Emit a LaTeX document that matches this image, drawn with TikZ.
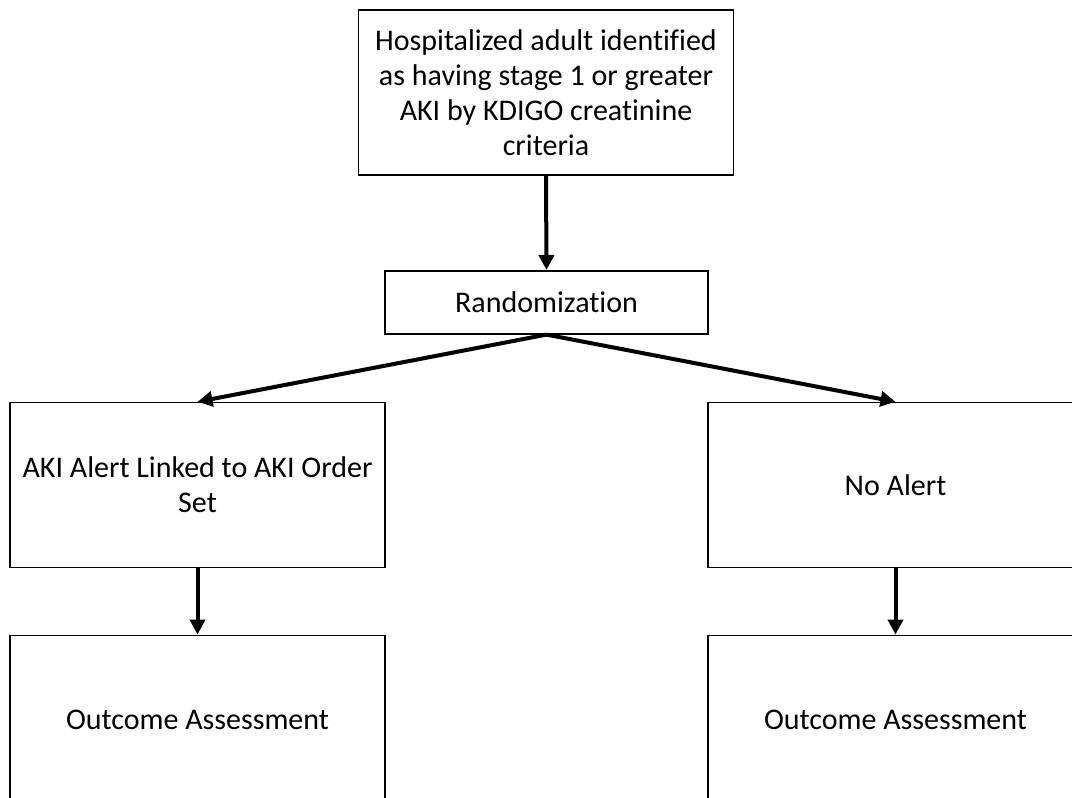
\documentclass[tikz,border=0pt]{standalone}
\usepackage{fontspec}
\setmainfont{Carlito}[Ligatures=NoCommon]
\usetikzlibrary{arrows.meta}
\tikzstyle{caja}=[draw, line width=1.6pt, align=center,
  minimum width=375pt, minimum height=165pt, inner sep=0pt,
  font=\fontsize{30}{35}\selectfont]
\tikzstyle{sorteo} = [caja, minimum width=323pt, minimum height=63pt]
\tikzstyle{fin} = [caja, minimum height=168pt]
\tikzstyle{line} = [draw, line width=4pt, -{Triangle[length=15pt,width=15pt]}]

\begin{document}
\begin{tikzpicture}[x=1pt,y=-1pt]

  \useasboundingbox (0,0) rectangle (1072,798);

  % Draw diagram elements
  \path (546,92.5) node (p1) [caja] {Hospitalized adult identified\\as having stage 1 or greater\\AKI by KDIGO creatinine\\criteria};

  \path (p1.south)+(0.5,126.5) node (p2) [sorteo] {Randomization};
  \path (p2.south)+(-349,150.5) node (p3) [caja] {AKI Alert Linked to AKI Order\\Set};
  \path (p2.south)+(349,150.5) node (p4) [caja] {No Alert};
  \path (p3.south)+(0.0,151) node (p5) [fin] {Outcome Assessment};
  \path (p4.south)+(0.0,151) node (p6) [fin] {Outcome Assessment};

  % Draw arrows between elements
  \path [line] (p1.south) -- (p2.north);

  \path [line] (p2.south) -- (p3.north);
  \path [line] (p2.south) -- (p4.north);

  \path [line] (p3.south) -- (p5.north);
  \path [line] (p4.south) -- (p6.north);
\end{tikzpicture}
\end{document}
